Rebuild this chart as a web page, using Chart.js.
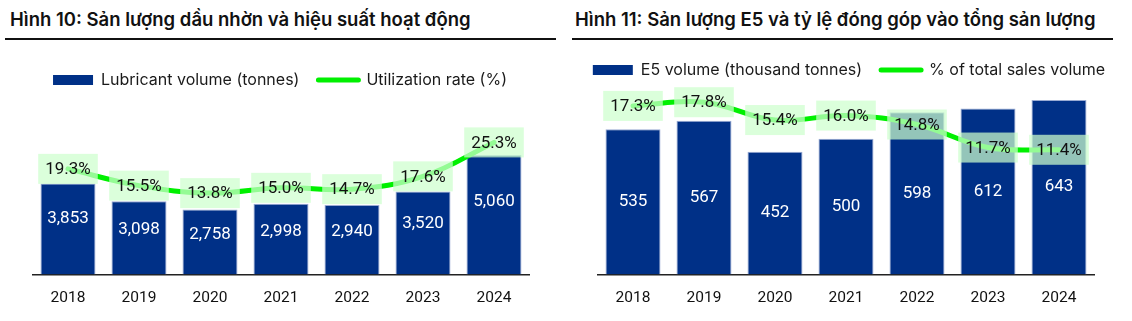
<!DOCTYPE html>
<html>
<head>
<meta charset="utf-8">
<script src="https://cdn.jsdelivr.net/npm/chart.js@4.4.1/dist/chart.umd.min.js"></script>
<style>
  html, body { margin: 0; padding: 0; background: #fff; }
  body { width: 1132px; height: 321px; position: relative; overflow: hidden; font-family: Inter, Roboto, sans-serif; }
  .title { position: absolute; top: 8px; font-family: Inter, Roboto, sans-serif; font-weight: 600; font-size: 18.5px; line-height: 22px; color: #111; white-space: nowrap; }
  .rule { position: absolute; top: 38px; height: 2px; background: #111; }
  .box { position: absolute; }
</style>
</head>
<body>
<div class="title" style="left:10px">Hình 10: Sản lượng dầu nhờn và hiệu suất hoạt động</div>
<div class="rule" style="left:5px; width:551px"></div>
<div class="title" style="left:575px">Hình 11: Sản lượng E5 và tỷ lệ đóng góp vào tổng sản lượng</div>
<div class="rule" style="left:572px; width:541px"></div>

<div class="box" style="left:0px; top:44px; width:560px; height:277px"><canvas id="c1"></canvas></div>
<div class="box" style="left:566px; top:34px; width:566px; height:287px"><canvas id="c2"></canvas></div>

<script>
// ---- data ----
const years = ['2018', '2019', '2020', '2021', '2022', '2023', '2024'];
const lubricantVolume = [3853, 3098, 2758, 2998, 2940, 3520, 5060];
const utilizationRate = [19.3, 15.5, 13.8, 15.0, 14.7, 17.6, 25.3];
const e5Volume = [535, 567, 452, 500, 598, 612, 643];
const e5Share = [17.3, 17.8, 15.4, 16.0, 14.8, 11.7, 11.4];

const BAR = '#003087';
const GREEN = '#00f000';
const FONT = 'Roboto';

const labelPlugin = {
  id: 'valueLabels',
  afterDatasetsDraw(chart, args, opts) {
    const ctx = chart.ctx;
    ctx.save();
    const barMeta = chart.getDatasetMeta(0);
    ctx.font = '17px ' + FONT;
    ctx.fillStyle = '#ffffff';
    ctx.textAlign = 'center';
    ctx.textBaseline = 'middle';
    barMeta.data.forEach((el, i) => {
      const v = chart.data.datasets[0].data[i];
      const y = el.y + opts.barFrac * (el.base - el.y);
      ctx.fillText(v.toLocaleString('en-US'), el.x, y);
    });
    const lineMeta = chart.getDatasetMeta(1);
    lineMeta.data.forEach((el, i) => {
      const v = chart.data.datasets[1].data[i];
      const txt = v.toFixed(1) + '%';
      ctx.font = '17px ' + FONT;
      const w = ctx.measureText(txt).width + 14;
      const h = 30;
      ctx.fillStyle = 'rgba(205,255,205,0.72)';
      ctx.fillRect(el.x - w / 2, el.y - h / 2, w, h);
      ctx.fillStyle = '#111';
      ctx.fillText(txt, el.x, el.y + 1);
    });
    ctx.restore();
  }
};

function makeChart(id, barLabel, lineLabel, bars, line, yMax, y1Min, y1Max, padTop, leftW, rightW, barFrac) {
  return new Chart(document.getElementById(id), {
    type: 'bar',
    data: {
      labels: years,
      datasets: [
        {
          type: 'bar', label: barLabel, data: bars, yAxisID: 'y',
          backgroundColor: BAR, borderColor: '#9aabd3', borderWidth: 1,
          categoryPercentage: 1, barPercentage: 0.775, order: 2
        },
        {
          type: 'line', label: lineLabel, data: line, yAxisID: 'y1',
          borderColor: GREEN, backgroundColor: GREEN, borderWidth: 5,
          borderCapStyle: 'round', pointRadius: 0, tension: 0.4, order: 1
        }
      ]
    },
    options: {
      responsive: true, maintainAspectRatio: false, animation: false,
      layout: { padding: { top: padTop, bottom: 0, left: 0, right: 0 } },
      plugins: {
        tooltip: { enabled: false },
        valueLabels: { barFrac: barFrac },
        legend: {
          position: 'top', align: 'center',
          labels: {
            usePointStyle: true, pointStyleWidth: 40, boxHeight: 10,
            padding: 19, color: '#1a1a1a', font: { family: 'Inter', size: 16 },
            sort: (a, b) => a.datasetIndex - b.datasetIndex,
            generateLabels(chart) {
              const items = Chart.defaults.plugins.legend.labels.generateLabels(chart);
              items.forEach(it => {
                if (it.datasetIndex === 0) {
                  it.pointStyle = 'rect'; it.lineWidth = 0; it.fillStyle = BAR; it.strokeStyle = BAR;
                } else {
                  it.pointStyle = 'line'; it.lineWidth = 5; it.strokeStyle = GREEN; it.lineCap = 'round';
                }
              });
              return items;
            }
          }
        }
      },
      scales: {
        x: {
          grid: { display: false, drawTicks: false },
          border: { display: true, color: '#222', width: 1.5 },
          ticks: { color: '#111', font: { family: FONT, size: 15.5 }, padding: 14 }
        },
        y: {
          position: 'left', min: 0, max: yMax,
          grid: { display: false, drawTicks: false }, border: { display: false },
          ticks: { display: false },
          afterFit(s) { s.width = leftW; }
        },
        y1: {
          position: 'right', min: y1Min, max: y1Max,
          grid: { display: false, drawTicks: false }, border: { display: false },
          ticks: { display: false },
          afterFit(s) { s.width = rightW; }
        }
      }
    },
    plugins: [labelPlugin]
  });
}

makeChart('c1', 'Lubricant volume (tonnes)', 'Utilization rate (%)',
  lubricantVolume, utilizationRate, 7483, -4.63, 35.37, 9, 32.5, 30.5, 0.39);
makeChart('c2', 'E5 volume (thousand tonnes)', '% of total sales volume',
  e5Volume, e5Share, 687.5, -5.36, 19.71, 9, 31.5, 37.5, 0.5);
</script>
</body>
</html>
